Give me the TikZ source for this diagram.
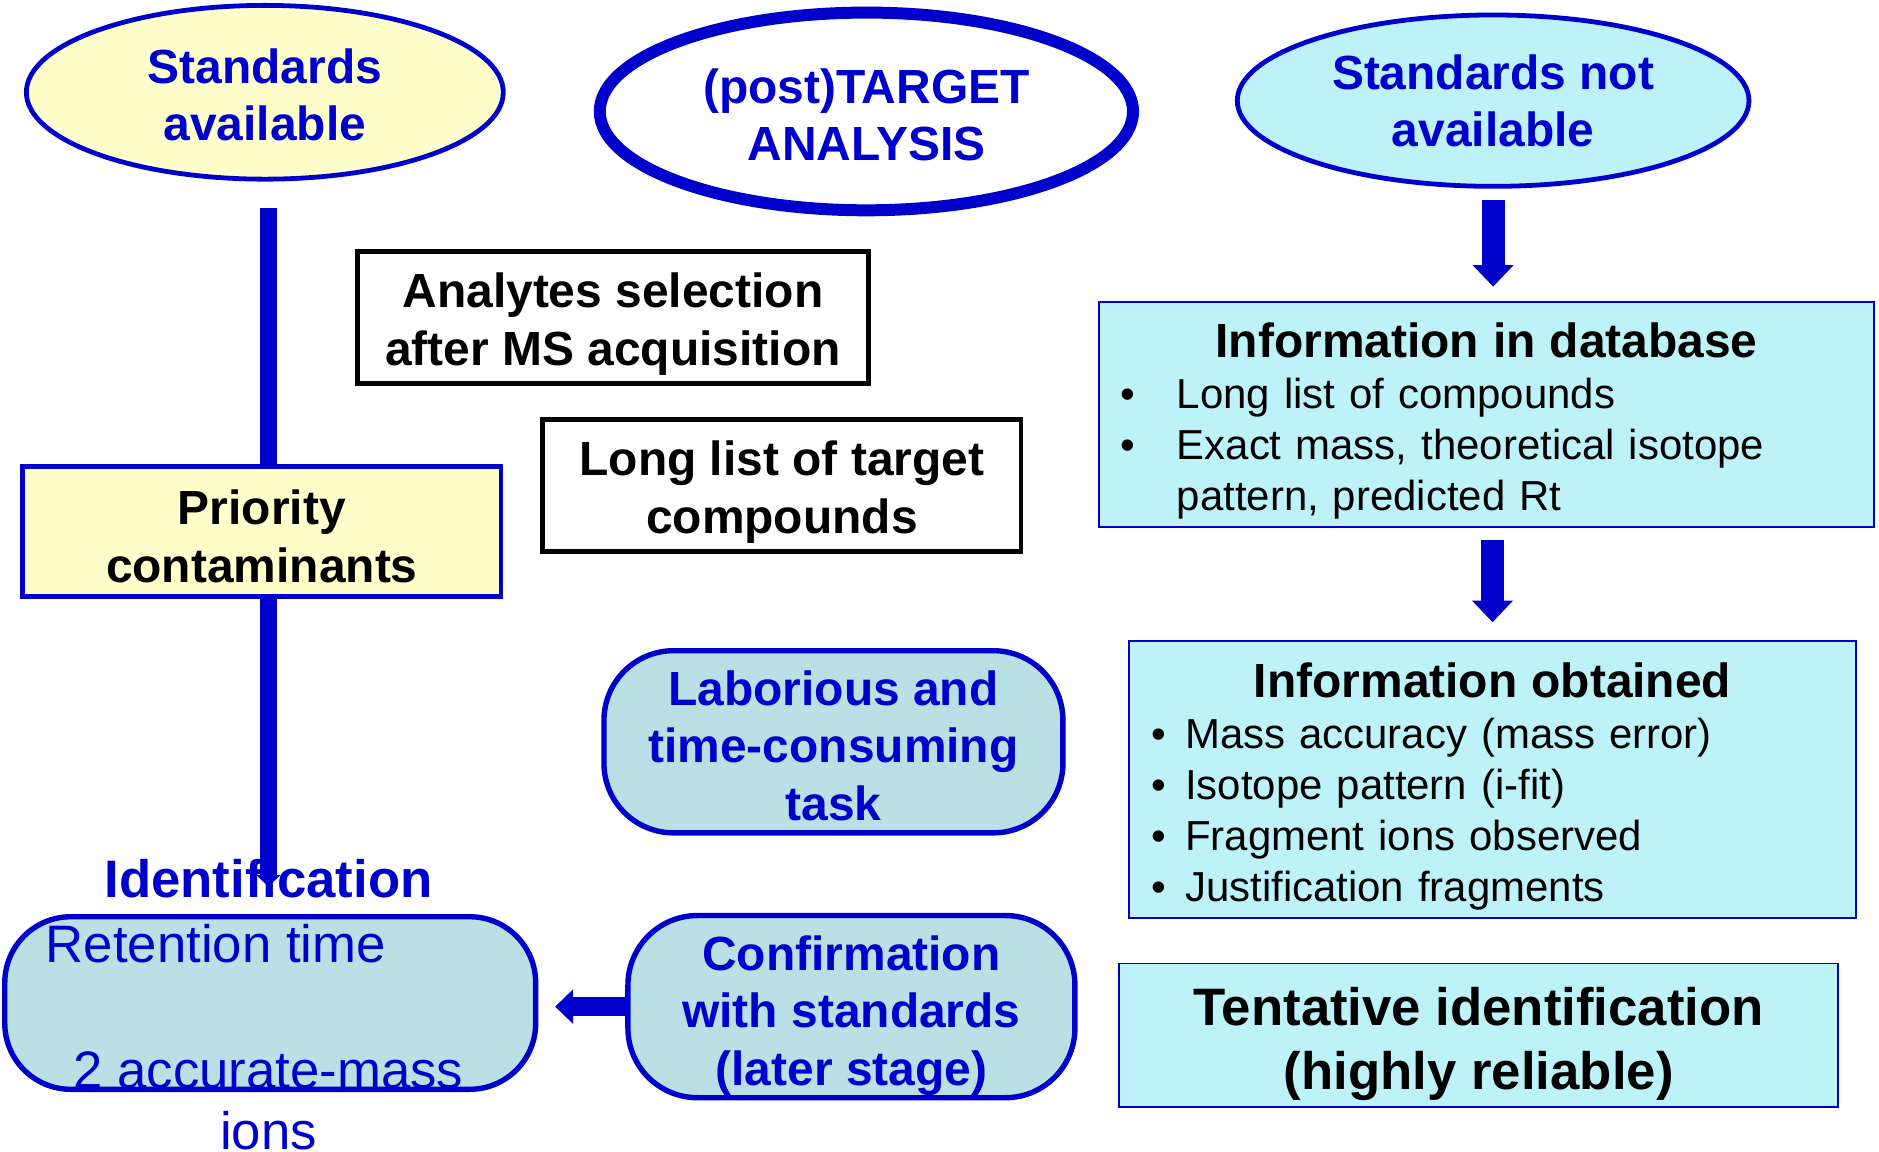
\documentclass[tikz,border=0pt]{standalone}
\usepackage{fontspec}
\setmainfont{Liberation Sans}
\usepackage{xcolor}
\usepackage{tikz}
\definecolor{deepblue}{RGB}{0,0,204}
\definecolor{paleyellow}{RGB}{255,255,204}
\definecolor{palecyan}{RGB}{188,242,248}
\definecolor{paleteal}{RGB}{185,224,228}
\newcommand{\midsize}{\fontsize{40}{48}\selectfont}
\newcommand{\largesize}{\fontsize{44}{51}\selectfont}
\newcommand{\listsize}{\fontsize{35}{42.5}\selectfont}
\newcommand{\bulletitem}[2]{\makebox[#1][l]{\textbullet}#2}
\newcommand{\dropby}[1]{\rule{0pt}{#1}}
\tikzset{>=latex,
    oval/.style={ellipse, draw=deepblue, line width=4pt, inner sep=0pt, align=center, text=deepblue, font=\midsize\bfseries},
    plainbox/.style={rectangle, draw=black, line width=4pt, fill=white, inner sep=0pt, align=center, font=\midsize\bfseries},
    roundbox/.style={rectangle, rounded corners=58pt, draw=deepblue, line width=4.5pt, fill=paleteal, inner sep=0pt, align=center, text=deepblue, font=\midsize\bfseries},
    infobox/.style={rectangle, draw=deepblue, line width=1.5pt, fill=palecyan, align=left, font=\listsize},
    bluetext/.style={inner sep=0pt, text=deepblue, font=\largesize},
    fatarrow/.style={draw=deepblue, line width=19pt, -{Triangle[width=33pt,length=18pt]}}}
\usetikzlibrary{shapes.geometric,arrows.meta}

\begin{document}
\begin{tikzpicture}[x=1pt, y=-1pt]
    \useasboundingbox (0,0) rectangle (1568,961);

    \node[oval, fill=paleyellow, minimum width=398pt, minimum height=145pt] (stdyes) at (221,77) {\dropby{33pt}Standards\\available};
    \node[oval, line width=10pt, fill=white, minimum width=445pt, minimum height=165pt] (target) at (723,93) {\dropby{35pt}(post)TARGET\\ANALYSIS};
    \node[oval, fill=palecyan, minimum width=427pt, minimum height=143pt] (stdno) at (1246,84) {Standards not\\available};

    \node[plainbox, minimum width=427pt, minimum height=110pt] (selection) at (511.5,265) {\dropby{40pt}Analytes selection\\after MS acquisition};
    \node[plainbox, minimum width=399pt, minimum height=110pt] (longlist) at (652.5,405) {\dropby{40pt}Long list of target\\compounds};

    \node[bluetext, font=\largesize\bfseries] (idlabel) at (224,733) {Identification};
    \draw[draw=deepblue, line width=14pt, -{Triangle[width=20pt,length=10pt]}, shorten <=22pt, shorten >=-7pt]
        (stdyes.south -| idlabel.center) -- (idlabel.center);
    \node[plainbox, draw=deepblue, fill=paleyellow, minimum width=399pt, minimum height=109pt] (priority) at (218.5,443.5) {\dropby{37pt}Priority\\contaminants};

    \node[roundbox, minimum width=383pt, minimum height=152pt] (laborious) at (695.5,619) {\dropby{35pt}Laborious and\\time-consuming\\task};
    \node[roundbox, minimum width=373pt, minimum height=152pt] (confirm) at (710.5,840) {\dropby{44pt}Confirmation\\with standards\\(later stage)};
    \node[roundbox, rounded corners=55pt, minimum width=443pt, minimum height=144pt] (idbox) at (225.5,837) {};
    \node[bluetext, anchor=base west] (rettime) at (38,803) {Retention time};
    \node[bluetext, align=center, anchor=north] (ionstext) at (224,877) {2 accurate-mass\\ions};
    \draw[draw=deepblue, line width=16pt, -{Triangle[width=28pt,length=15pt]}, shorten >=14pt]
        (confirm.west) -- (confirm.west -| idbox.east);

    \node[infobox, text width=611pt, inner xsep=18pt, minimum height=188pt] (database) at (1240.5,346) {%
        \dropby{40pt}\makebox[\linewidth]{\midsize\bfseries Information in database}\\
        \bulletitem{47pt}{Long list of compounds}\\
        \bulletitem{47pt}{Exact mass, theoretical isotope}\\
        \hspace*{47pt}pattern, predicted Rt};
    \node[infobox, text width=569pt, inner xsep=19pt, minimum height=231pt] (obtained) at (1245.5,650.5) {%
        \dropby{40pt}\makebox[\linewidth]{\midsize\bfseries Information obtained}\\
        \bulletitem{28pt}{Mass accuracy (mass error)}\\
        \bulletitem{28pt}{Isotope pattern (i-fit)}\\
        \bulletitem{28pt}{Fragment ions observed}\\
        \bulletitem{28pt}{Justification fragments}};
    \node[infobox, inner sep=0pt, align=center, font=\fontsize{44}{53}\selectfont\bfseries, minimum width=600pt, minimum height=120pt] (tentative) at (1234,864) {\dropby{46pt}Tentative identification\\(highly reliable)};

    \draw[fatarrow, shorten <=9pt, shorten >=12pt] (stdno.south) -- (stdno.south |- database.north);
    \draw[fatarrow, shorten <=10pt, shorten >=15pt] (database.south -| obtained.north) -- (obtained.north);
\end{tikzpicture}
\end{document}
